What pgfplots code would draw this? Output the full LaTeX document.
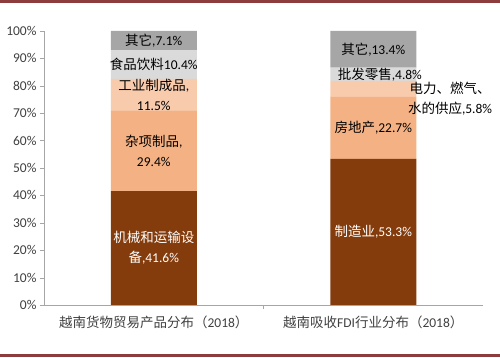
\documentclass[border=0pt]{standalone}
\usepackage{pgfplots}
\pgfplotsset{compat=1.18}
\usepackage{fontspec}
\setmainfont{Carlito}
\newfontfamily\cjkfont{Noto Sans CJK SC}
\definecolor{cA}{HTML}{843C0C}
\definecolor{cB}{HTML}{F4B183}
\definecolor{cC}{HTML}{F8CBAD}
\definecolor{cD}{HTML}{DADADA}
\definecolor{cE}{HTML}{A6A6A6}
\definecolor{axgray}{HTML}{A6A6A6}
\definecolor{tickgray}{HTML}{404040}
\definecolor{framered}{HTML}{8C3C3C}
\tikzset{lbl/.style={align=center, inner sep=0pt, font=\fontsize{13.5bp}{20bp}\selectfont}}
\begin{document}
\begin{tikzpicture}
\begin{axis}[
  at={(44bp,53bp)}, anchor=south west,
  width=439bp, height=274bp, scale only axis,
  xmin=-0.5, xmax=1.5, ymin=0, ymax=100,
  ybar stacked, bar width=86bp,
  axis lines*=left, axis line style={draw=axgray},
  ytick={0,10,...,100},
  yticklabel={\pgfmathprintnumber{\tick}\%},
  ytick style={draw=axgray},
  xtick={0,1},
  xticklabels={{{\cjkfont 越南货物贸易产品分布（}2018{\cjkfont ）}},{{\cjkfont 越南吸收}FDI{\cjkfont 行业分布（}2018{\cjkfont ）}}},
  xtick style={draw=none},
  extra x ticks={0.5}, extra x tick labels={},
  extra x tick style={xtick style={draw=axgray}},
  tick align=outside, major tick length=4bp,
  /pgf/number format/assume math mode=true,
  ticklabel style={font=\fontsize{13.5bp}{16bp}\selectfont, text=tickgray},
  xticklabel style={yshift=-3bp},
]
\addplot[fill=cA, draw=none] coordinates {(0,41.6) (1,53.3)};
\addplot[fill=cB, draw=none] coordinates {(0,29.4) (1,22.7)};
\addplot[fill=cC, draw=none] coordinates {(0,11.5) (1,5.8)};
\addplot[fill=cD, draw=none] coordinates {(0,10.4) (1,4.8)};
\addplot[fill=cE, draw=none] coordinates {(0,7.1) (1,13.4)};
\coordinate (a1) at (axis cs:0,20.8);
\coordinate (a2) at (axis cs:0,56.3);
\coordinate (a3) at (axis cs:0,76.75);
\coordinate (a4) at (axis cs:0,87.7);
\coordinate (a5) at (axis cs:0,96.45);
\coordinate (b1) at (axis cs:1,26.65);
\coordinate (b2) at (axis cs:1,64.65);
\coordinate (b3) at (axis cs:1.35,75.4);
\coordinate (b4) at (axis cs:1.03,84.2);
\coordinate (b5) at (axis cs:1,93.3);
\end{axis}
\node[lbl, text=white] at (a1) {{\cjkfont 机械和运输设}\\{\cjkfont 备},41.6\%};
\node[lbl] at (a2) {{\cjkfont 杂项制品},\\29.4\%};
\node[lbl] at (a3) {{\cjkfont 工业制成品},\\11.5\%};
\node[lbl] at (a4) {{\cjkfont 食品饮料}10.4\%};
\node[lbl] at (a5) {{\cjkfont 其它},7.1\%};
\node[lbl, text=white] at (b1) {{\cjkfont 制造业},53.3\%};
\node[lbl] at (b2) {{\cjkfont 房地产},22.7\%};
\node[lbl] at (b3) {{\cjkfont 电力、燃气、}\\{\cjkfont 水的供应},5.8\%};
\node[lbl] at (b4) {{\cjkfont 批发零售},4.8\%};
\node[lbl] at (b5) {{\cjkfont 其它},13.4\%};
\draw[framered, line width=2.5bp] (0,356.5bp) -- (500bp,356.5bp);
\draw[framered, line width=2.5bp] (0,2.5bp) -- (500bp,2.5bp);
\pgfresetboundingbox
\useasboundingbox (0,0) rectangle (500bp,358bp);
\end{tikzpicture}
\end{document}
